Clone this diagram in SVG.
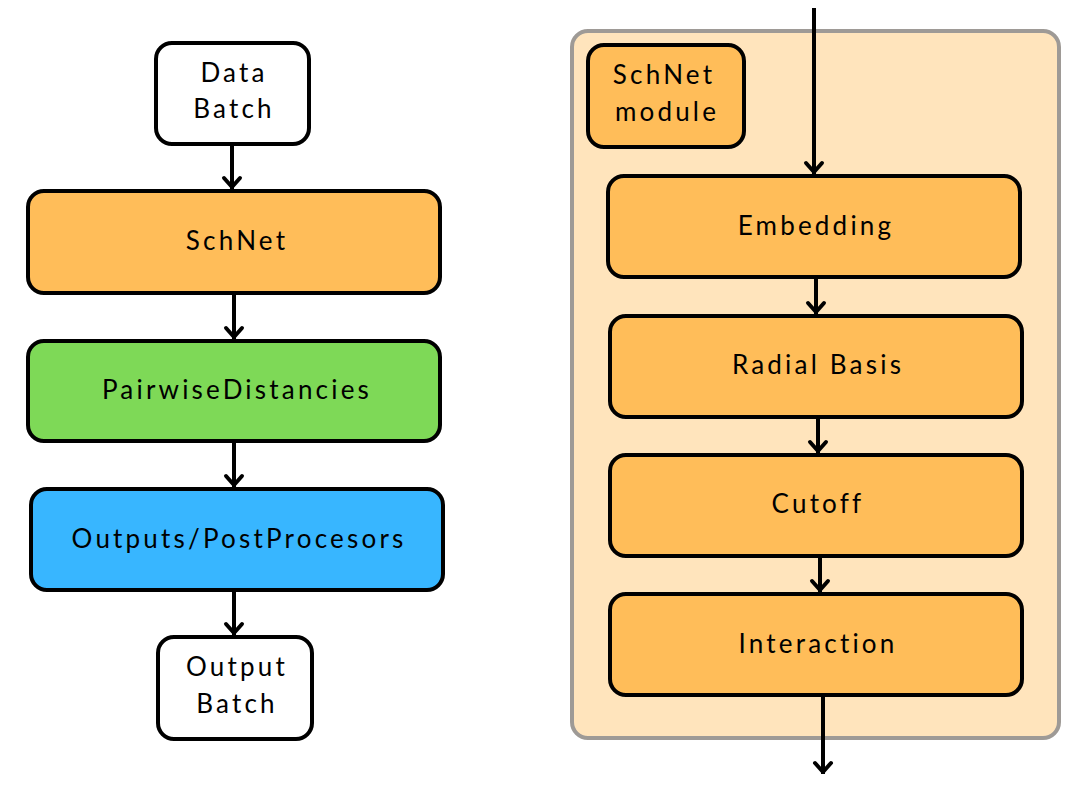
<svg xmlns="http://www.w3.org/2000/svg" width="1074" height="793" viewBox="0 0 1074 793">
<defs>
<style>
.box{stroke:#000;stroke-width:4}
.w{fill:#fff}
.o{fill:#FFBD59}
.g{fill:#7ED957}
.b{fill:#38B6FF}
.t{font-family:Lato,"Noto Sans",sans-serif;font-size:26px;letter-spacing:3.2px;text-anchor:middle;fill:#000}
.c{stroke:#000;stroke-width:4;fill:none}
.h{stroke:#000;stroke-width:4;fill:none;stroke-linecap:round;stroke-linejoin:round}
</style>
</defs>
<rect x="572" y="31" width="487" height="707" rx="16" fill="#FFE4BC" stroke="#9E9A96" stroke-width="4"/>
<g id="connectors">
<path class="c" d="M232 145V189"/><path class="h" d="M224 178L232 187L240 178"/>
<path class="c" d="M234 294V339"/><path class="h" d="M226 328L234 337L242 328"/>
<path class="c" d="M234 442V487"/><path class="h" d="M226 476L234 485L242 476"/>
<path class="c" d="M234 591V635"/><path class="h" d="M226 624L234 633L242 624"/>
<path class="c" d="M814 8V174"/><path class="h" d="M806 163L814 172L822 163"/>
<path class="c" d="M816 278V314"/><path class="h" d="M808 303L816 312L824 303"/>
<path class="c" d="M818 418V453"/><path class="h" d="M810 442L818 451L826 442"/>
<path class="c" d="M820 557V592"/><path class="h" d="M812 581L820 590L828 581"/>
<path class="c" d="M823 696V774"/><path class="h" d="M815 763L823 772L831 763"/>
</g>
<g id="data-batch"><rect class="box w" x="156" y="43" width="153" height="101" rx="16"/><text class="t" x="234" y="82">Data</text><text class="t" x="234" y="118">Batch</text></g>
<g id="schnet"><rect class="box o" x="28" y="191" width="412" height="102" rx="16"/><text class="t" x="237" y="250">SchNet</text></g>
<g id="pairwise"><rect class="box g" x="28" y="341" width="412" height="100" rx="16"/><text class="t" x="237" y="399">PairwiseDistancies</text></g>
<g id="outputs"><rect class="box b" x="31" y="489" width="412" height="101" rx="16"/><text class="t" x="239" y="548">Outputs/PostProcesors</text></g>
<g id="output-batch"><rect class="box w" x="158" y="637" width="154" height="102" rx="16"/><text class="t" x="237" y="676">Output</text><text class="t" x="237" y="713">Batch</text></g>
<g id="schnet-module"><rect class="box o" x="588" y="45" width="156" height="102" rx="16"/><text class="t" x="664" y="84">SchNet</text><text class="t" x="667" y="121">module</text></g>
<g id="embedding"><rect class="box o" x="608" y="176" width="412" height="101" rx="16"/><text class="t" x="816" y="235">Embedding</text></g>
<g id="radial-basis"><rect class="box o" x="610" y="316" width="412" height="101" rx="16"/><text class="t" x="818" y="374">Radial Basis</text></g>
<g id="cutoff"><rect class="box o" x="610" y="455" width="412" height="101" rx="16"/><text class="t" x="818" y="513">Cutoff</text></g>
<g id="interaction"><rect class="box o" x="610" y="594" width="412" height="101" rx="16"/><text class="t" x="818" y="653">Interaction</text></g>
</svg>
